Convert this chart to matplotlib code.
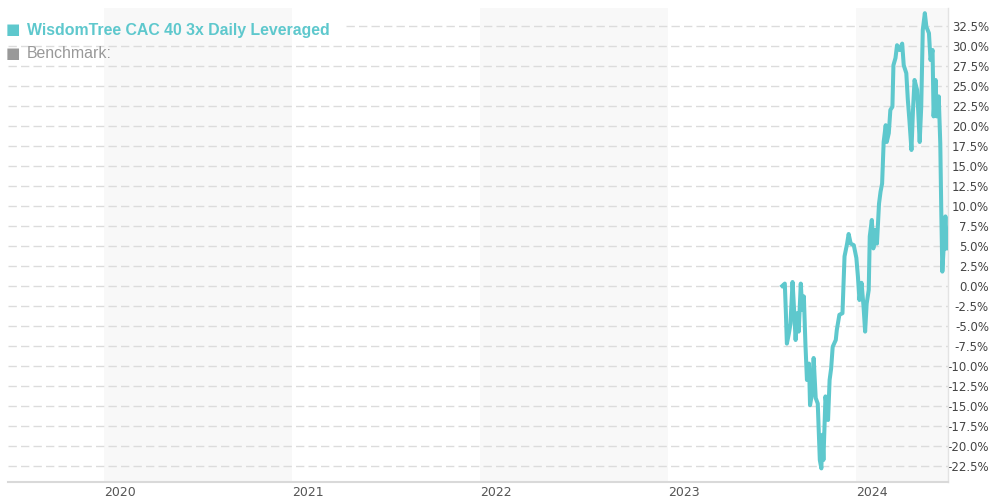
import matplotlib
matplotlib.use("Agg")
import matplotlib.pyplot as plt
import numpy as np
import pandas as pd

# fund performance (%)
dates = [
    "2023-08-11", "2023-08-16", "2023-08-18", "2023-08-20", "2023-08-24", "2023-08-27",
    "2023-08-31", "2023-09-02", "2023-09-06", "2023-09-09", "2023-09-12", "2023-09-16",
    "2023-09-19", "2023-09-22", "2023-09-25", "2023-09-28", "2023-10-02", "2023-10-04",
    "2023-10-08", "2023-10-11", "2023-10-15", "2023-10-19", "2023-10-23", "2023-10-26",
    "2023-10-28", "2023-10-30", "2023-11-03", "2023-11-08", "2023-11-11", "2023-11-14",
    "2023-11-17", "2023-11-23", "2023-11-25", "2023-11-30", "2023-12-06", "2023-12-10",
    "2023-12-15", "2023-12-18", "2023-12-22", "2023-12-28", "2024-01-02", "2024-01-05",
    "2024-01-08", "2024-01-12", "2024-01-16", "2024-01-19", "2024-01-22", "2024-01-26",
    "2024-01-28", "2024-02-01", "2024-02-04", "2024-02-08", "2024-02-11", "2024-02-15",
    "2024-02-18", "2024-02-21", "2024-02-24", "2024-02-28", "2024-03-01", "2024-03-05",
    "2024-03-08", "2024-03-12", "2024-03-14", "2024-03-18", "2024-03-21", "2024-03-26",
    "2024-03-31", "2024-04-03", "2024-04-08", "2024-04-11", "2024-04-14", "2024-04-18",
    "2024-04-21", "2024-04-24", "2024-04-29", "2024-05-01", "2024-05-04", "2024-05-07",
    "2024-05-10", "2024-05-14", "2024-05-17", "2024-05-22", "2024-05-25", "2024-05-29",
    "2024-05-31", "2024-06-04", "2024-06-06", "2024-06-10", "2024-06-13", "2024-06-15",
    "2024-06-17", "2024-06-20", "2024-06-23", "2024-06-26",
]
values = [
    0.0, 0.3, -3.2, -7.2, -5.9, -4.7,
    0.5, -1.75, -6.75, -3.4, -5.7, 0.3,
    -3.0, -1.3, -7.2, -11.75, -9.7, -14.9,
    -13.4, -9.0, -14.0, -14.7, -21.75, -22.8,
    -18.6, -21.75, -13.8, -16.75, -11.75, -10.3,
    -7.6, -6.75, -5.5, -3.6, -3.4, 3.7,
    5.3, 6.5, 5.3, 5.1, 3.5, 1.2,
    -1.75, 0.4, -2.6, -5.7, -2.2, -0.5,
    6.2, 8.25, 4.7, 7.0, 5.3, 10.3,
    11.8, 12.8, 18.0, 20.1, 18.0, 19.1,
    22.0, 22.4, 27.6, 28.5, 30.1, 29.5,
    30.3, 27.6, 26.6, 23.25, 20.75, 17.0,
    22.0, 25.75, 24.5, 22.0, 18.0, 22.4,
    32.0, 34.1, 32.4, 31.6, 28.25, 29.5,
    21.2, 25.75, 21.2, 23.7, 17.8, 9.1,
    1.8, 5.3, 8.7, 4.7,
]

years = [2020, 2021, 2022, 2023, 2024]
shaded_years = [2020, 2022, 2024]
y_ticks = np.arange(-22.5, 33.0, 2.5)

fund_name = "WisdomTree CAC 40 3x Daily Leveraged"
bench_name = "Benchmark:"
teal = "#5ec8cd"

x = pd.to_datetime(dates)
x_start = pd.Timestamp("2019-06-29")
x_end = pd.Timestamp("2024-06-28")

fig = plt.figure(figsize=(9.9, 5.0), dpi=100)
ax = fig.add_axes([8 / 990, 18 / 500, 940 / 990, 474 / 500])

# alternate year shading
for yr in shaded_years:
    a = pd.Timestamp(f"{yr}-01-01")
    b = min(pd.Timestamp(f"{yr + 1}-01-01"), x_end)
    ax.axvspan(a, b, color="#f8f8f8", zorder=0, lw=0)

# dashed grid, top line hidden behind the legend
for t in y_ticks:
    xmin = 0.36 if t > 32 else 0.0
    ax.axhline(t, xmin=xmin, color="#dcdcdc", lw=1, dashes=(6, 3), zorder=1)

ax.plot(x, values, color=teal, lw=2.9, zorder=3)

ax.set_xlim(x_start, x_end)
ax.set_ylim(-24.5, 34.75)

ax.yaxis.tick_right()
ax.set_yticks(y_ticks)
ax.set_yticklabels([f"{t:.1f}%" for t in y_ticks])
ax.tick_params(axis="y", length=0, pad=29.5, labelsize=8.5, labelcolor="#444444")
for lbl in ax.get_yticklabels():
    lbl.set_horizontalalignment("right")

ax.set_xticks([pd.Timestamp(f"{yr}-01-01") for yr in years])
ax.set_xticklabels([str(yr) for yr in years])
ax.tick_params(axis="x", length=0, pad=3, labelsize=9, labelcolor="#555555")
for lbl in ax.get_xticklabels():
    lbl.set_horizontalalignment("left")

for side in ["top", "left"]:
    ax.spines[side].set_visible(False)
ax.spines["bottom"].set_color("#d9d9d9")
ax.spines["bottom"].set_linewidth(1.5)
ax.spines["right"].set_color("#e3e3e3")
ax.spines["right"].set_linewidth(1)

# legend
fig.text(6 / 990, 1 - 30 / 500, "■", color=teal, fontsize=11, va="center", family="DejaVu Sans")
fig.text(27 / 990, 1 - 30 / 500, fund_name, color=teal, fontsize=11.4, fontweight="bold",
         va="center", family="Liberation Sans")
fig.text(6 / 990, 1 - 53 / 500, "■", color="#999999", fontsize=11, va="center", family="DejaVu Sans")
fig.text(27 / 990, 1 - 53 / 500, bench_name, color="#999999", fontsize=11.4,
         va="center", family="Liberation Sans")

fig.savefig("out.png", dpi=100)
